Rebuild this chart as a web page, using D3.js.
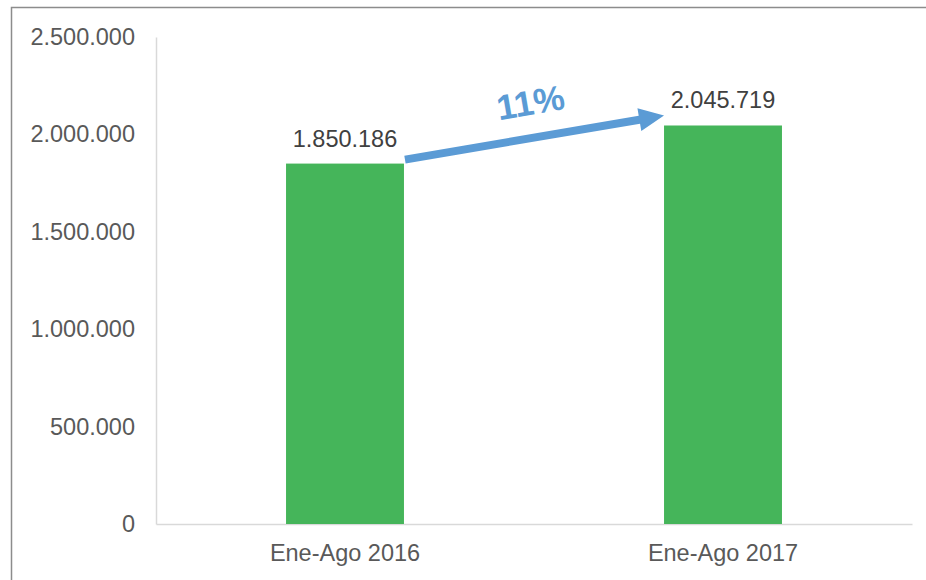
<!DOCTYPE html>
<html>
<head>
<meta charset="utf-8">
<script src="https://cdn.jsdelivr.net/npm/d3@7"></script>
<style>
  html, body { margin: 0; padding: 0; background: #fff; }
  svg { display: block; font-family: "Liberation Sans", Arial, sans-serif; }
</style>
</head>
<body>
<div id="chart"></div>
<script>
const categories = ["Ene-Ago 2016", "Ene-Ago 2017"];
const values = [1850186, 2045719];
const yTicks = [0, 500000, 1000000, 1500000, 2000000, 2500000];
const growthLabel = "11%";

const COLORS = {
  bar: "#45B55A",
  axis: "#D9D9D9",
  tickText: "#595959",
  valueText: "#404040",
  arrow: "#5B9BD5",
  frame: "#8C8C8C",
};

const width = 926;
const height = 580;
const margin = { top: 37, right: 14, bottom: 56, left: 156 };

// dotted thousands like the source (es locale)
const fmt = d3.formatLocale({ decimal: ",", thousands: ".", grouping: [3], currency: ["", ""] }).format(",");

const svg = d3.select("#chart").append("svg")
  .attr("width", width)
  .attr("height", height);

svg.append("rect")
  .attr("x", 11.5).attr("y", 7.5)
  .attr("width", width).attr("height", height)
  .attr("fill", "none")
  .attr("stroke", COLORS.frame)
  .attr("stroke-width", 1.5);

const x = d3.scaleBand()
  .domain(categories)
  .range([margin.left, width - margin.right])
  .paddingInner(0.688)
  .paddingOuter(0.344);

const y = d3.scaleLinear()
  .domain([0, d3.max(yTicks)])
  .range([height - margin.bottom, margin.top]);

// y axis
svg.append("g")
  .attr("transform", `translate(${margin.left},0)`)
  .call(d3.axisLeft(y).tickValues(yTicks).tickSize(0).tickPadding(21).tickFormat(fmt))
  .call((g) => {
    g.select(".domain").attr("stroke", COLORS.axis).attr("stroke-width", 1.5);
    g.selectAll(".tick text")
      .attr("fill", COLORS.tickText)
      .style("font-size", "23.5px");
  });

// x axis
svg.append("g")
  .attr("transform", `translate(0,${y(0)})`)
  .call(d3.axisBottom(x).tickSize(0).tickPadding(20))
  .call((g) => {
    g.select(".domain").attr("stroke", COLORS.axis).attr("stroke-width", 1.5);
    g.selectAll(".tick text")
      .attr("fill", COLORS.tickText)
      .style("font-size", "23.5px");
  });

// bars
svg.append("g")
  .selectAll("rect")
  .data(values)
  .enter()
  .append("rect")
  .attr("x", (d, i) => x(categories[i]))
  .attr("y", (d) => y(d))
  .attr("width", x.bandwidth())
  .attr("height", (d) => y(0) - y(d))
  .attr("fill", COLORS.bar);

// value labels
svg.append("g")
  .selectAll("text")
  .data(values)
  .enter()
  .append("text")
  .attr("x", (d, i) => x(categories[i]) + x.bandwidth() / 2)
  .attr("y", (d) => y(d) - 17)
  .attr("text-anchor", "middle")
  .attr("fill", COLORS.valueText)
  .style("font-size", "23.5px")
  .text((d) => fmt(d));

// growth arrow from top-right of first bar toward second label
const x0 = x(categories[0]) + x.bandwidth() + 1;
const y0 = y(values[0]) - 4;
const x1 = x(categories[1]);
const y1 = y(values[1]) - 10;
const angle = Math.atan2(y1 - y0, x1 - x0);
const len = Math.hypot(x1 - x0, y1 - y0);
const shaft = 8;
const headLen = 25;
const headW = 23;

const arrow = svg.append("g")
  .attr("transform", `translate(${x0},${y0}) rotate(${angle * 180 / Math.PI})`);

arrow.append("path")
  .attr("d", [
    `M0,${-shaft / 2}`,
    `L${len - headLen},${-shaft / 2}`,
    `L${len - headLen},${-headW / 2}`,
    `L${len},0`,
    `L${len - headLen},${headW / 2}`,
    `L${len - headLen},${shaft / 2}`,
    `L0,${shaft / 2}`,
    "Z",
  ].join(" "))
  .attr("fill", COLORS.arrow);

arrow.append("text")
  .attr("x", len / 2 + 2)
  .attr("y", -23)
  .attr("text-anchor", "middle")
  .attr("fill", COLORS.arrow)
  .style("font-size", "35px")
  .style("font-weight", "700")
  .text(growthLabel);
</script>
</body>
</html>
